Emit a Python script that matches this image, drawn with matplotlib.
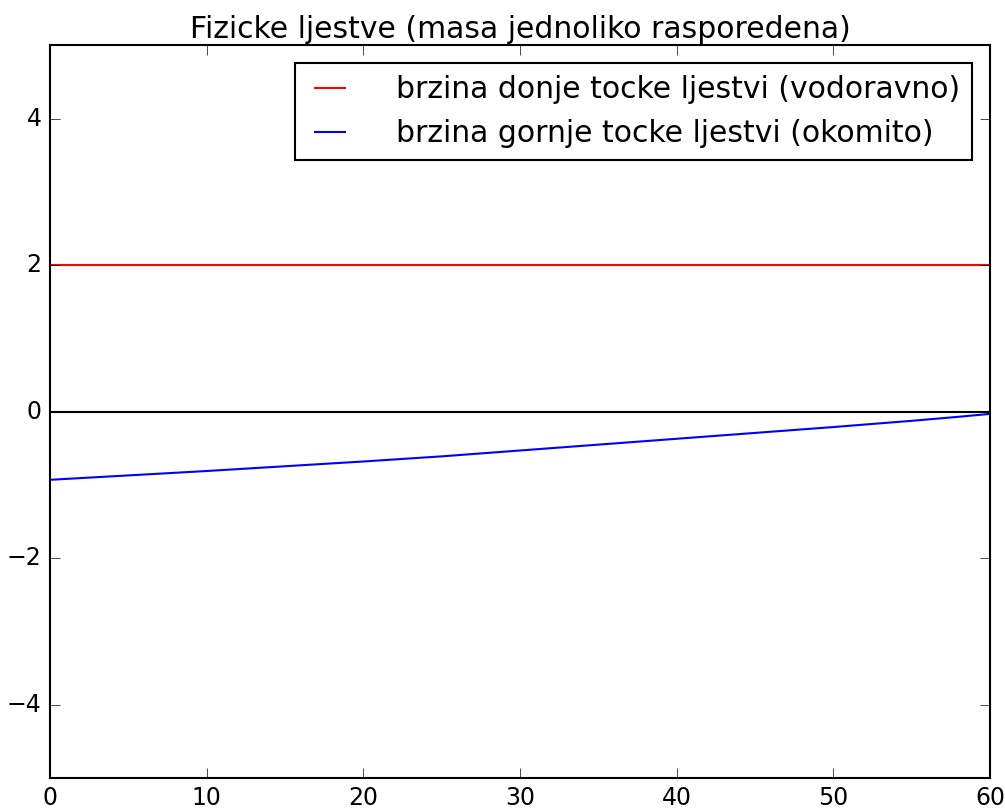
import matplotlib
matplotlib.use("Agg")
import matplotlib.pyplot as plt

plt.style.use('classic')

# kut (stupnjevi) i brzine
kut = [0, 5, 10, 15, 20, 25, 30, 35, 40, 45, 50, 55, 58, 60]
v_gornja = [-0.93, -0.87, -0.81, -0.745, -0.68, -0.61, -0.53, -0.45,
            -0.37, -0.29, -0.21, -0.125, -0.07, -0.03]
v_donja = [2.0] * len(kut)

fig = plt.figure(figsize=(10.05, 8.09), dpi=100)
ax = fig.add_axes([0.0498, 0.0383, 0.9353, 0.9057])

ax.plot(kut, v_donja, 'r-', lw=1.5, label='brzina donje tocke ljestvi (vodoravno)')
ax.plot(kut, v_gornja, 'b-', lw=1.5, label='brzina gornje tocke ljestvi (okomito)')
ax.axhline(0, color='k', lw=1.5)

ax.set_xlim(0, 60)
ax.set_ylim(-5, 5)
ax.set_xticks([0, 10, 20, 30, 40, 50, 60])
ax.set_yticks([-4, -2, 0, 2, 4])
ax.tick_params(labelsize=17, length=7, pad=6)
for s in ax.spines.values():
    s.set_linewidth(1.5)
ax.set_title('Fizicke ljestve (masa jednoliko rasporedena)', fontsize=21.5)
leg = ax.legend(loc='upper right', fontsize=21.5, handlelength=1.6, borderaxespad=0.6,
                handletextpad=1.4)
leg.get_frame().set_linewidth(1.5)

fig.savefig('out.png', dpi=100)
